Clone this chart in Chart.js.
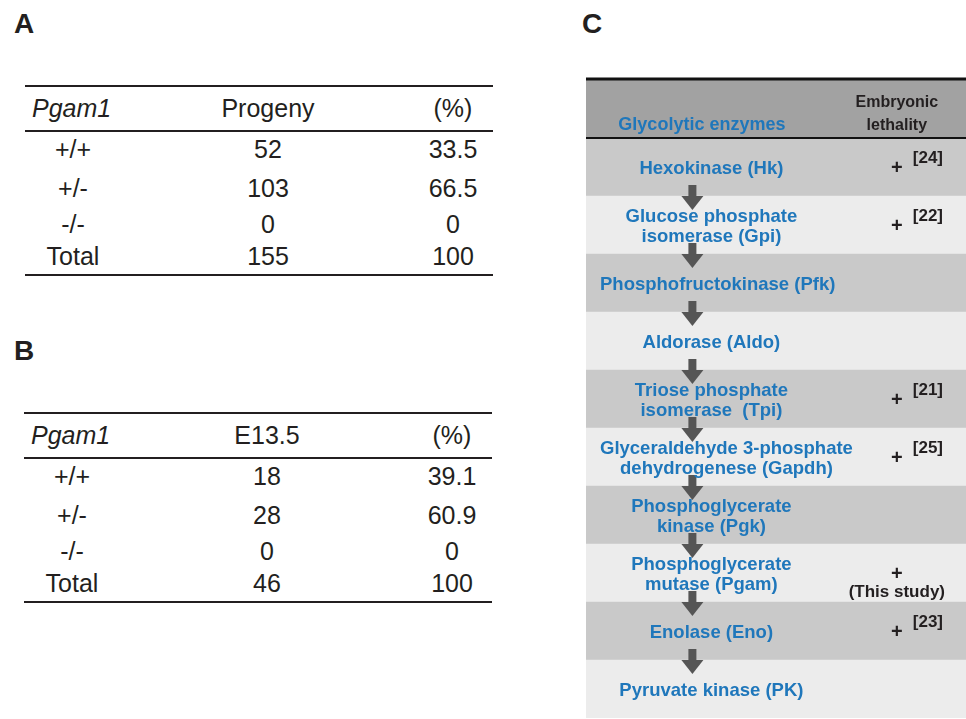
<!DOCTYPE html>
<html>
<head>
<meta charset="utf-8">
<script src="https://cdn.jsdelivr.net/npm/chart.js@4.4.1/dist/chart.umd.min.js"></script>
<style>
  body { margin: 0; background: #fff; font-family: "Liberation Sans", Arial, sans-serif; }
  #page { position: relative; width: 966px; height: 719px; overflow: hidden; }
  .lbl { position: absolute; font-weight: bold; font-size: 28px; color: #231f20; line-height: 28px; }
  .cell { position: absolute; font-size: 25px; line-height: 25px; color: #231f20; white-space: nowrap; }
  .rule { position: absolute; height: 2px; background: #231f20; }
  #cwrap { position: absolute; left: 586px; top: 77px; }
</style>
</head>
<body>
<div id="page">
  <div class="lbl" style="left:14px;top:10px">A</div>
  <div class="lbl" style="left:14px;top:337px">B</div>
  <div class="lbl" style="left:582px;top:10px">C</div>
  <div id="cwrap"><canvas id="grafico" width="380" height="642"></canvas></div>
</div>
<script>
// tabelas A e B
var genotypes = ['+/+', '+/-', '-/-', 'Total'];
var progeny = ['52', '103', '0', '155'];
var progenyPct = ['33.5', '66.5', '0', '100'];
var embryos = ['18', '28', '0', '46'];
var embryosPct = ['39.1', '60.9', '0', '100'];

// painel C
var enzymes = [
    'Hexokinase (Hk)',
    'Glucose phosphate\nisomerase (Gpi)',
    'Phosphofructokinase (Pfk)',
    'Aldorase (Aldo)',
    'Triose phosphate\nisomerase  (Tpi)',
    'Glyceraldehyde 3-phosphate\ndehydrogenese (Gapdh)',
    'Phosphoglycerate\nkinase (Pgk)',
    'Phosphoglycerate\nmutase (Pgam)',
    'Enolase (Eno)',
    'Pyruvate kinase (PK)'
];
var lethality = ['+', '+', '', '', '+', '+', '', '+', '+', ''];
var refs = ['[24]', '[22]', '', '', '[21]', '[25]', '', '(This study)', '[23]', ''];
var bandSpan = [1, 1, 1, 1, 1, 1, 1, 1, 1, 1, 1];

function tabela(top, left, col2Title, col2, col3) {
    var page = document.getElementById('page');
    var centers = [48, 243, 428];
    var rowBase = [72, 111, 147, 179];
    function cell(text, base, center, italic, leftAlign) {
        var d = document.createElement('div');
        d.className = 'cell';
        d.textContent = text;
        d.style.top = (top + base - 21) + 'px';
        if (leftAlign) {
            d.style.left = (left + leftAlign) + 'px';
        } else {
            d.style.left = (left + center - 60) + 'px';
            d.style.width = '120px';
            d.style.textAlign = 'center';
        }
        if (italic) d.style.fontStyle = 'italic';
        page.appendChild(d);
    }
    function rule(y) {
        var r = document.createElement('div');
        r.className = 'rule';
        r.style.top = (top + y - 1) + 'px';
        r.style.left = left + 'px';
        r.style.width = '468px';
        page.appendChild(r);
    }
    rule(0); rule(45); rule(189);
    cell('Pgam1', 31, 0, true, 7);
    cell(col2Title, 31, centers[1]);
    cell('(%)', 31, centers[2]);
    for (var i = 0; i < genotypes.length; i++) {
        cell(genotypes[i], rowBase[i], centers[0]);
        cell(col2[i], rowBase[i], centers[1]);
        cell(col3[i], rowBase[i], centers[2]);
    }
}
tabela(86, 25, 'Progeny', progeny, progenyPct);
tabela(413, 24, 'E13.5', embryos, embryosPct);

var bandColors = ['#a2a2a2'];
for (var k = 0; k < enzymes.length; k++) {
    bandColors.push(k % 2 === 0 ? '#c9c9c9' : '#ececec');
}

var fonte = '"Liberation Sans", Arial, sans-serif';

var textos = {
    id: 'textos',
    afterDatasetsDraw: function (chart) {
        var ctx = chart.ctx;
        var area = chart.chartArea;
        var y = chart.scales.y;
        var w = area.right - area.left;
        var half = (y.getPixelForValue(1) - y.getPixelForValue(0)) / 2;
        var xName = area.left + 0.33 * w;
        var xArrow = area.left + 0.28 * w;
        var xPlus = area.left + 0.818 * w;
        var xRef = area.left + 0.86 * w;
        ctx.save();

        // linhas
        ctx.strokeStyle = '#111';
        ctx.lineWidth = 3;
        ctx.beginPath();
        ctx.moveTo(area.left, area.top - 1);
        ctx.lineTo(area.right, area.top - 1);
        ctx.stroke();
        ctx.lineWidth = 2;
        var yh = y.getPixelForValue(0) + half;
        ctx.beginPath();
        ctx.moveTo(area.left, yh);
        ctx.lineTo(area.right, yh);
        ctx.stroke();

        // cabeçalho
        var y0 = y.getPixelForValue(0);
        ctx.textBaseline = 'middle';
        ctx.textAlign = 'center';
        ctx.fillStyle = '#1f77bb';
        ctx.font = 'bold 18px ' + fonte;
        ctx.fillText('Glycolytic enzymes', area.left + 0.305 * w, y0 + 16);
        ctx.fillStyle = '#231f20';
        ctx.font = 'bold 16px ' + fonte;
        ctx.fillText('Embryonic', xPlus, y0 - 6);
        ctx.fillText('lethality', xPlus, y0 + 17);

        // setas
        ctx.fillStyle = '#555';
        for (var i = 1; i < enzymes.length; i++) {
            var b = y.getPixelForValue(i) + half;
            ctx.fillRect(xArrow - 4, b - 11, 8, 12);
            ctx.beginPath();
            ctx.moveTo(xArrow - 11, b);
            ctx.lineTo(xArrow + 11, b);
            ctx.lineTo(xArrow, b + 14);
            ctx.closePath();
            ctx.fill();
        }

        // enzimas e letalidade
        for (var j = 0; j < enzymes.length; j++) {
            var yc = y.getPixelForValue(j + 1);
            var linhas = enzymes[j].split('\n');
            ctx.fillStyle = '#1f77bb';
            ctx.font = 'bold 18.5px ' + fonte;
            ctx.textAlign = 'center';
            // textos longos não encostam na borda esquerda
            var larg = Math.max.apply(null, linhas.map(function (l) { return ctx.measureText(l).width; }));
            var xc = Math.max(xName, area.left + 14 + larg / 2);
            if (linhas.length === 1) {
                ctx.fillText(linhas[0], xc, yc + 2);
            } else {
                ctx.fillText(linhas[0], xc, yc - 8);
                ctx.fillText(linhas[1], xc, yc + 12);
            }
            if (lethality[j]) {
                ctx.fillStyle = '#231f20';
                ctx.font = 'bold 20px ' + fonte;
                ctx.fillText(lethality[j], xPlus, yc + 1);
                ctx.font = 'bold 17px ' + fonte;
                if (refs[j].charAt(0) === '(') {
                    ctx.fillText(refs[j], xPlus, yc + 19);
                } else if (refs[j]) {
                    ctx.textAlign = 'left';
                    ctx.fillText(refs[j], xRef, yc - 9);
                }
            }
        }
        ctx.restore();
    }
};

var ctxC = document.getElementById('grafico').getContext('2d');
new Chart(ctxC, {
    type: 'bar',
    data: {
        labels: ['Glycolytic enzymes'].concat(enzymes),
        datasets: [{
            data: bandSpan,
            backgroundColor: bandColors,
            borderWidth: 0,
            barPercentage: 1,
            categoryPercentage: 1
        }]
    },
    options: {
        indexAxis: 'y',
        responsive: false,
        animation: false,
        layout: { padding: { top: 3, bottom: 1, left: 0, right: 0 } },
        scales: {
            x: { display: false, min: 0, max: 1 },
            y: { display: false }
        },
        plugins: {
            legend: { display: false },
            tooltip: { enabled: false }
        }
    },
    plugins: [textos]
});
</script>
</body>
</html>
